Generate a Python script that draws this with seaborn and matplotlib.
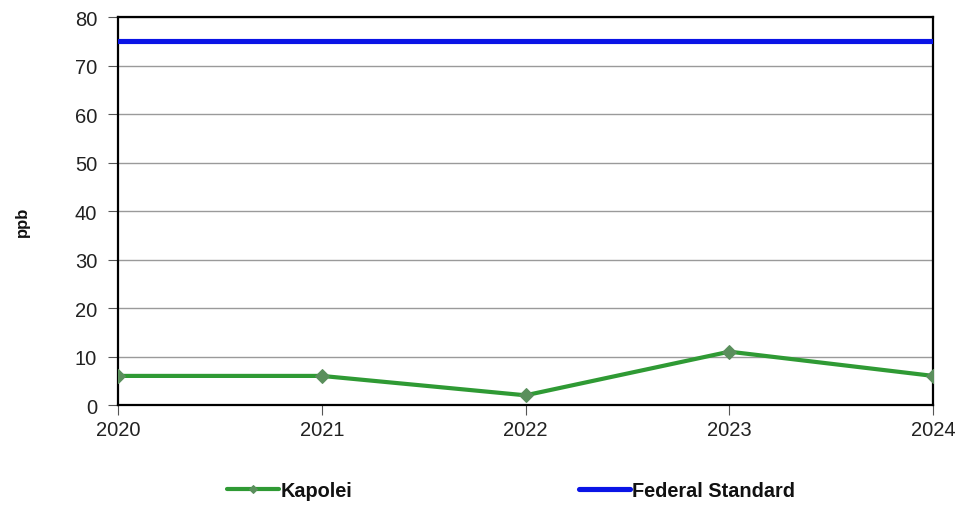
import matplotlib
matplotlib.use("Agg")
import matplotlib.pyplot as plt
import seaborn as sns
import pandas as pd

years = [2020, 2021, 2022, 2023, 2024]
kapolei = [6, 6, 2, 11, 6]
federal_standard = [75, 75, 75, 75, 75]
y_ticks = [0, 10, 20, 30, 40, 50, 60, 70, 80]

sns.set_theme(style="white")
plt.rcParams["font.family"] = ["Liberation Sans", "DejaVu Sans"]

df = pd.DataFrame({"Year": years, "Kapolei": kapolei, "Federal Standard": federal_standard})

fig = plt.figure(figsize=(9.61, 5.06), dpi=100)
ax = fig.add_axes([0.1228, 0.1976, 0.8482, 0.7668])

sns.lineplot(data=df, x="Year", y="Federal Standard", ax=ax, color="#0a14e6",
             linewidth=3.7, label="Federal Standard", zorder=3)
sns.lineplot(data=df, x="Year", y="Kapolei", ax=ax, color="#2f9a34",
             linewidth=3.0, marker="D", markersize=7, markerfacecolor="#5a8f5c",
             markeredgecolor="#5a8f5c", label="Kapolei", zorder=4)

ax.set_xlim(2020, 2024)
ax.set_ylim(0, 80)
ax.set_yticks(y_ticks)
ax.set_xticks(years)
ax.set_xticklabels([str(y) for y in years])
ax.yaxis.grid(True, color="#9a9a9a", linewidth=1)
ax.set_axisbelow(True)
for s in ax.spines.values():
    s.set_color("black")
    s.set_linewidth(1.6)
ax.tick_params(axis="both", which="both", direction="out", length=7, width=0.8,
               color="#555555", labelsize=14.5, labelcolor="#222222", pad=4)
ax.tick_params(axis="y", pad=8)
ax.tick_params(axis="both", left=True, bottom=True)
ax.set_xlabel("")
ax.set_ylabel("ppb", fontsize=12, fontweight="bold", color="#111111")
ax.yaxis.set_label_coords(-0.108, 0.474)

handles, labels = ax.get_legend_handles_labels()
ax.get_legend().remove()
order = [labels.index("Kapolei"), labels.index("Federal Standard")]
leg = fig.legend([handles[i] for i in order], [labels[i] for i in order],
                 loc="center", bbox_to_anchor=(0.532, 0.028), ncol=2, frameon=False,
                 prop={"weight": "bold", "size": 14.3}, columnspacing=11.4,
                 handlelength=2.6, handletextpad=0.1, markerscale=0.6,
                 borderpad=0, borderaxespad=0)
for t in leg.get_texts():
    t.set_color("#111111")

fig.savefig("out.png", dpi=100, facecolor="white")
